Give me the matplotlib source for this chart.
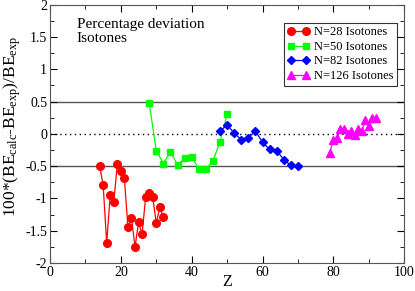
import matplotlib
matplotlib.use('Agg')
import matplotlib.pyplot as plt
from matplotlib.ticker import MultipleLocator, FormatStrFormatter

plt.rcParams['font.family'] = 'Liberation Serif'
plt.rcParams['mathtext.fontset'] = 'custom'
plt.rcParams['mathtext.rm'] = 'Liberation Serif'
plt.rcParams['mathtext.it'] = 'Liberation Serif:italic'

# N=28 isotones
z28 = [14, 15, 16, 17, 18, 19, 20, 21, 22, 23, 24, 25, 26, 27, 28, 29, 30, 31, 32]
d28 = [-0.50, -0.79, -1.69, -0.95, -1.06, -0.47, -0.57, -0.69, -1.45, -1.30,
       -1.75, -1.37, -1.55, -0.98, -0.91, -0.98, -1.38, -1.14, -1.29]
# N=50 isotones
z50 = [28, 30, 32, 34, 36, 38, 40, 42, 44, 46, 48, 50]
d50 = [0.48, -0.26, -0.46, -0.28, -0.48, -0.38, -0.36, -0.54, -0.55, -0.42, -0.12, 0.30]
# N=82 isotones
z82 = [48, 50, 52, 54, 56, 58, 60, 62, 64, 66, 68, 70]
d82 = [0.04, 0.14, 0.01, -0.09, -0.06, 0.04, -0.13, -0.24, -0.26, -0.40, -0.49, -0.50]
# N=126 isotones
z126 = [79, 80, 81, 82, 83, 84, 85, 86, 87, 88, 89, 90, 91, 92]
d126 = [-0.29, -0.09, -0.06, 0.07, 0.07, -0.01, 0.04, -0.02, 0.07, 0.04, 0.21, 0.12, 0.25, 0.25]

fig = plt.figure(figsize=(4.15, 2.91), dpi=100)
ax = fig.add_axes([0.1205, 0.0962, 0.8535, 0.8878])

ax.axhline(0.5, color='#555555', lw=1, zorder=1)
ax.axhline(-0.5, color='#555555', lw=1, zorder=1)
ax.axhline(0, color='black', lw=1, ls=(0, (1, 2.5)), zorder=1)

ax.plot(z28, d28, '-o', color='#ff0000', ms=5.5, lw=0.9, label='N=28 Isotones')
ax.plot(z50, d50, '-s', color='#00ff00', ms=5, lw=0.9, label='N=50 Isotones')
ax.plot(z82, d82, '-D', color='#0000ff', ms=4.3, lw=0.9, label='N=82 Isotones')
ax.plot(z126, d126, '-^', color='#ff00ff', ms=5.5, lw=0.9, label='N=126 Isotones')

ax.set_xlim(0, 100)
ax.set_ylim(-2, 2)
ax.xaxis.set_major_locator(MultipleLocator(20))
ax.xaxis.set_minor_locator(MultipleLocator(10))
ax.yaxis.set_major_locator(MultipleLocator(0.5))
ax.yaxis.set_minor_locator(MultipleLocator(0.25))
ax.yaxis.set_major_formatter(FormatStrFormatter('%g'))
ax.tick_params(which='both', direction='in', top=True, right=True, labelsize=10, pad=2)
ax.tick_params(which='major', length=5)
ax.tick_params(which='minor', length=3)
for s in ax.spines.values():
    s.set_color('#555555')

ax.set_xlabel('Z', fontsize=11.5)
ax.xaxis.set_label_coords(0.5, -0.042)
ax.set_ylabel(r'100*(BE$_{\rm calc}$-BE$_{\rm exp}$)/BE$_{\rm exp}$', fontsize=12.5)
ax.yaxis.set_label_coords(-0.075, 0.53)

ax.text(0.075, 0.95, 'Percentage deviation\nIsotones', transform=ax.transAxes,
        fontsize=11, va='top', ha='left', linespacing=1.1)

leg = ax.legend(loc='upper right', bbox_to_anchor=(0.98, 0.93), fontsize=9, numpoints=2,
                frameon=True, fancybox=False, edgecolor='black', handlelength=1.8,
                handletextpad=0.3, borderpad=0.3, labelspacing=0.2, borderaxespad=0)
leg.get_frame().set_linewidth(0.8)

fig.savefig('out.png', dpi=100)
